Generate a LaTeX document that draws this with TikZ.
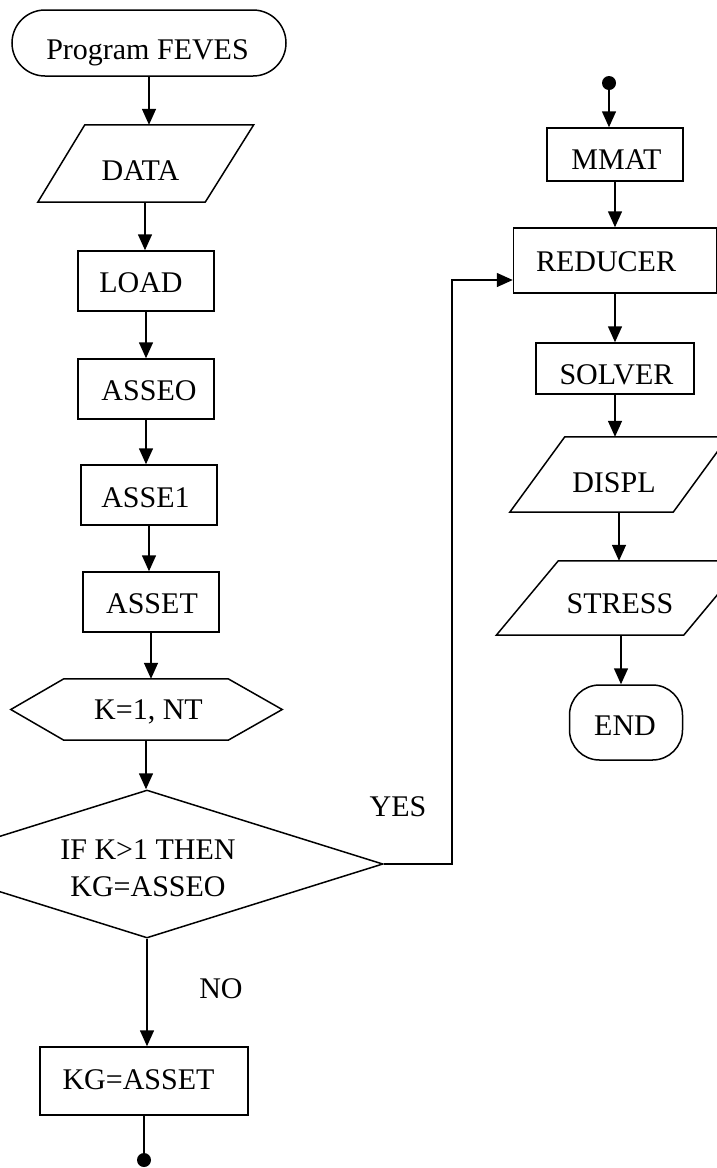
\documentclass[tikz,border=0pt]{standalone}
\usepackage{fontspec}
\setmainfont{Liberation Serif}
\usetikzlibrary{arrows.meta,shapes.geometric}
\begin{document}
\begin{tikzpicture}[x=1pt,y=-1pt,
  every node/.style={font=\fontsize{30}{37}\selectfont, inner sep=0pt},
  captext/.style={text height=20pt,text depth=0pt},
  line/.style={line width=1.5pt},
  arr/.style={line width=1.5pt,-{Triangle[length=16pt,width=14pt]}},
  box/.style={draw,line width=1.5pt,rectangle,minimum width=136pt,minimum height=60pt},
  plain/.style={rectangle,draw=none},
  dot/.style={circle,fill,minimum size=14pt}
]
\useasboundingbox (0,0) rectangle (717,1168);
\clip (0,0) rectangle (717,1168);

% ---------- left column ----------
\node[draw,line width=1.5pt,rounded corners=33pt,minimum width=274pt,minimum height=66pt,
  label={[captext,xshift=-1.5pt,yshift=-6.5pt]center:Program FEVES}] (prog) at (149,43) {};
\node[plain,minimum width=167pt,minimum height=77pt,
  label={[captext,xshift=-4.5pt,yshift=-6.5pt]center:DATA}] (data) at (145,163.5) {};
\draw[line] ([xshift=23.5pt]data.north west) -- ([xshift=25pt]data.north east)
  -- ([xshift=-23.5pt]data.south east) -- ([xshift=-23.5pt]data.south west) -- cycle;
\node[box,label={[captext,xshift=-5pt,yshift=-1.5pt]center:LOAD}] (load)  at (146,281) {};
\node[box,label={[captext,xshift=3pt,yshift=-1pt]center:ASSEO}] (asseo) at (146,389) {};
\node[box,label={[captext,xshift=-3.5pt,yshift=-2pt]center:ASSE1}] (asse1) at (149,495) {};
\node[box,label={[captext,xshift=1pt,yshift=-1pt]center:ASSET}] (asset) at (151,602) {};
\node[plain,minimum width=164pt,minimum height=61pt,
  label={[captext,xshift=2.5pt]center:{K=1, NT}}] (loop) at (146,709.5) {};
\draw[line] (loop.north west) -- (loop.north east) -- ([xshift=54pt]loop.east)
  -- (loop.south east) -- (loop.south west) -- ([xshift=-53pt]loop.west) -- cycle;
\node[diamond,draw,line width=1.5pt,aspect=3.19,minimum width=472pt,minimum height=148pt,
  label={[align=center,yshift=-4.5pt,xshift=1pt]center:{IF K>1 THEN\\KG=ASSEO}}] (cond) at (147,864) {};
\node[box,minimum width=208pt,minimum height=68pt,
  label={[captext,xshift=-5.5pt,yshift=1.5pt]center:{KG=ASSET}}] (kg) at (144,1081) {};
\node[dot] (dotA) at (144,1160) {};

\draw[arr] (prog.south) -- (prog.south |- data.north);
\draw[arr] (data.south) -- (data.south |- load.north);
\draw[arr] (load.south) -- (load.south |- asseo.north);
\draw[arr] (asseo.south) -- (asseo.south |- asse1.north);
\draw[arr] (asse1.south) -- (asse1.south |- asset.north);
\draw[arr] (asset.south) -- (asset.south |- loop.north);
\draw[arr] (loop.south) -- (loop.south |- cond.north);
\draw[arr] (cond.south) -- (cond.south |- kg.north);
\draw[line] (kg.south) -- (dotA);
\node[captext] (no) at (221,988) {NO};
\node[captext] (yes) at (398,806) {YES};

% ---------- right column ----------
\node[dot] (dotB) at (609,83) {};
\node[box,minimum height=53pt,label={[captext,xshift=1.5pt,yshift=-5pt]center:MMAT}] (mmat) at (615,154.5) {};
\node[box,minimum width=203pt,minimum height=65pt,
  label={[captext,xshift=-9pt,yshift=-0.5pt]center:REDUCER}] (reducer) at (615,260.5) {};
\node[box,minimum width=158pt,minimum height=51pt,
  label={[captext,xshift=1.5pt,yshift=-5.5pt]center:SOLVER}] (solver) at (615,368.5) {};
\node[plain,minimum width=163pt,minimum height=75pt,
  label={[captext,xshift=-5pt,yshift=-7.5pt]center:DISPL}] (displ) at (619,474.5) {};
\draw[line] ([xshift=27.5pt]displ.north west) -- ([xshift=27.5pt]displ.north east)
  -- ([xshift=-27.5pt]displ.south east) -- ([xshift=-27.5pt]displ.south west) -- cycle;
\node[plain,minimum width=187pt,minimum height=74pt,
  label={[captext,xshift=-1pt,yshift=-5pt]center:STRESS}] (stress) at (621,598) {};
\draw[line] ([xshift=31pt]stress.north west) -- ([xshift=31pt]stress.north east)
  -- ([xshift=-31pt]stress.south east) -- ([xshift=-31pt]stress.south west) -- cycle;
\node[draw,line width=1.5pt,rounded corners=30pt,minimum width=113pt,minimum height=75pt,
  label={[captext,xshift=-1pt,yshift=-2.5pt]center:END}] (fin) at (626,722.5) {};

\draw[arr] (dotB) -- (dotB |- mmat.north);
\draw[arr] (mmat.south) -- (mmat.south |- reducer.north);
\draw[arr] (reducer.south) -- (reducer.south |- solver.north);
\draw[arr] (solver.south) -- (solver.south |- displ.north);
\draw[arr] (displ.south) -- (displ.south |- stress.north);
\draw[arr] (stress.south) -- (stress.south |- fin.north);

% ---------- return path from the test to REDUCER ----------
\coordinate (jump) at (452,280);
\draw[arr] (cond.east) -| (jump) -- (jump -| reducer.west);
\end{tikzpicture}
\end{document}
